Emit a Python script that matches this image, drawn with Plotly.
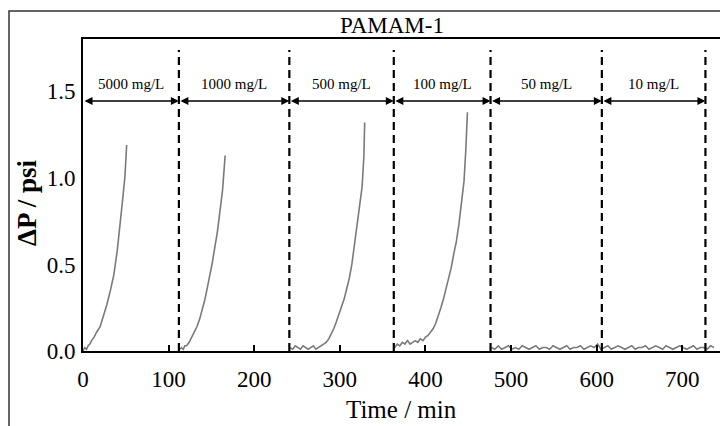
import plotly.graph_objects as go

# ---- data ----
conc_labels = ["5000 mg/L", "1000 mg/L", "500 mg/L", "100 mg/L", "50 mg/L", "10 mg/L"]
boundaries = [0, 112, 241, 363, 476, 606, 727]
x_ticks = [0, 100, 200, 300, 400, 500, 600, 700]
y_ticks = [0.0, 0.5, 1.0, 1.5]

t1 = [0, 2, 4, 6, 8, 10, 13, 16, 20, 24, 28, 32, 36, 40, 43, 46, 49, 51]
p1 = [0.0, 0.02, 0.01, 0.03, 0.04, 0.06, 0.08, 0.11, 0.14, 0.20, 0.27, 0.35, 0.44, 0.58, 0.71, 0.86, 1.01, 1.19]

t2 = [113, 115, 117, 119, 121, 124, 127, 130, 133, 136, 139, 142, 145, 148, 151, 154, 157, 160, 163, 166]
p2 = [0.01, 0.02, 0.01, 0.03, 0.03, 0.05, 0.08, 0.11, 0.14, 0.18, 0.23, 0.29, 0.36, 0.43, 0.51, 0.60, 0.69, 0.81, 0.93, 1.13]

t3 = [242, 245, 248, 251, 254, 257, 260, 263, 266, 269, 272, 275, 278, 281, 284, 287, 290, 293,
      296, 299, 302, 305, 308, 311, 314, 317, 320, 323, 326, 328, 329]
p3 = [0.02, 0.01, 0.03, 0.02, 0.01, 0.03, 0.02, 0.01, 0.02, 0.03, 0.01, 0.02, 0.03, 0.04, 0.05, 0.07,
      0.10, 0.13, 0.17, 0.21, 0.25, 0.30, 0.36, 0.42, 0.50, 0.61, 0.71, 0.83, 0.95, 1.12, 1.32]

t4 = [364, 367, 370, 373, 376, 379, 382, 385, 388, 391, 394, 397, 400, 403, 406, 409, 412, 415,
      418, 421, 424, 427, 430, 433, 436, 439, 442, 445, 447, 449]
p4 = [0.02, 0.04, 0.03, 0.05, 0.04, 0.06, 0.04, 0.05, 0.06, 0.05, 0.07, 0.06, 0.08, 0.09, 0.11, 0.13,
      0.16, 0.20, 0.25, 0.30, 0.36, 0.41, 0.48, 0.56, 0.63, 0.73, 0.84, 0.98, 1.15, 1.38]

t5 = [477, 481, 485, 489, 493, 497, 501, 505, 509, 513, 517, 521, 525, 529, 533, 537, 541, 545,
      549, 553, 557, 561, 565, 569, 573, 577, 581, 585, 589, 593, 597, 601, 605, 609, 613, 617,
      621, 625, 629, 633, 637, 641, 645, 649, 653, 657, 661, 665, 669, 673, 677, 681, 685, 689,
      693, 697, 701, 705, 709, 713, 717, 721, 725, 729, 733, 737]
p5 = [0.02, 0.01, 0.03, 0.01, 0.02, 0.03, 0.01, 0.02, 0.01, 0.03, 0.02, 0.01, 0.02, 0.03, 0.01,
      0.02, 0.02, 0.01, 0.03, 0.02, 0.01, 0.02, 0.03, 0.01, 0.02, 0.02, 0.03, 0.01, 0.02, 0.03,
      0.02, 0.04, 0.01, 0.02, 0.03, 0.01, 0.02, 0.03, 0.02, 0.01, 0.02, 0.03, 0.01, 0.02, 0.02,
      0.03, 0.01, 0.02, 0.03, 0.02, 0.01, 0.03, 0.02, 0.01, 0.02, 0.03, 0.02, 0.01, 0.02, 0.03,
      0.01, 0.02, 0.02, 0.01, 0.03, 0.02]

serif = "Liberation Serif, Times New Roman, serif"
L, T, W, H = 83, 39, 637, 312  # plot box in pixels


def px(x):
    return (x - L) / W


def py(y):
    return (T + H - y) / H


fig = go.Figure()
for tx, ty in [(t1, p1), (t2, p2), (t3, p3), (t4, p4), (t5, p5)]:
    fig.add_trace(go.Scatter(x=tx, y=ty, mode="lines",
                             line=dict(color="#7a7a7a", width=1.6), showlegend=False))

# dashed separators
for b in boundaries[1:]:
    fig.add_shape(type="line", x0=b, x1=b, y0=0, y1=1.74, xref="x", yref="y",
                  line=dict(color="black", width=2.2, dash="8px,5px"))

# arrows + labels
for i, lab in enumerate(conc_labels):
    a, b = boundaries[i], boundaries[i + 1]
    fig.add_annotation(x=b, y=1.445, ax=a, ay=1.445, xref="x", yref="y", axref="x", ayref="y",
                       text="", showarrow=True, arrowhead=2, arrowside="end+start",
                       arrowsize=1, arrowwidth=1.6, arrowcolor="black", standoff=0, startstandoff=0)
    fig.add_annotation(x=(a + b) / 2, y=1.545, xref="x", yref="y", text=lab, showarrow=False,
                       xanchor="center", yanchor="middle",
                       font=dict(family=serif, size=15, color="black"))

# title & axis titles
fig.add_annotation(x=px(392), y=py(26), xref="paper", yref="paper", xanchor="center", yanchor="middle",
                   text="PAMAM-1", showarrow=False, font=dict(family=serif, size=23, color="black"))
fig.add_annotation(x=px(401), y=py(409), xref="paper", yref="paper", xanchor="center", yanchor="middle",
                   text="Time / min", showarrow=False, font=dict(family=serif, size=25, color="black"))
fig.add_annotation(x=px(27), y=py(203), xref="paper", yref="paper", xanchor="center", yanchor="middle",
                   text="<b>ΔP / psi</b>", textangle=-90, showarrow=False,
                   font=dict(family=serif, size=27, color="black"))

# outer frame
fig.add_shape(type="rect", xref="paper", yref="paper",
              x0=px(9), x1=px(740), y0=py(460), y1=py(11),
              line=dict(color="#333333", width=1.5))

fig.update_layout(
    width=720, height=426,
    margin=dict(l=L, r=720 - L - W, t=T, b=426 - T - H, autoexpand=False),
    paper_bgcolor="white", plot_bgcolor="white",
    xaxis=dict(range=[0, 744], tickvals=x_ticks,
               showgrid=False, zeroline=False, showline=True, linecolor="black", linewidth=2,
               mirror=True, ticks="inside", ticklen=6, tickwidth=1.5, tickcolor="black",
               ticklabelstandoff=6,
               tickfont=dict(family=serif, size=23, color="black")),
    yaxis=dict(range=[0, 1.803], tickvals=y_ticks, tickformat=".1f",
               showgrid=False, zeroline=False, showline=True, linecolor="black", linewidth=2,
               ticks="", ticklabelstandoff=1,
               tickfont=dict(family=serif, size=23, color="black")),
)

fig.write_html("out.html", config={"displayModeBar": False},
               post_script="document.body.style.margin='0';")
